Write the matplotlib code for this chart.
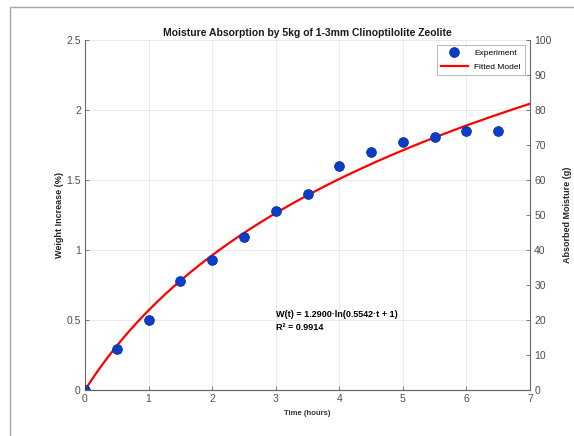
import numpy as np
import matplotlib.pyplot as plt
from matplotlib.patches import Rectangle

plt.rcParams['font.family'] = ['Liberation Sans', 'DejaVu Sans']

# Measured weight increase of the zeolite sample
time_h = [0, 0.5, 1, 1.5, 2, 2.5, 3, 3.5, 4, 4.5, 5, 5.5, 6, 6.5]
weight_pct = [0, 0.29, 0.50, 0.78, 0.93, 1.09, 1.28, 1.40, 1.60, 1.70, 1.77, 1.81, 1.85, 1.85]

# Fitted model W(t) = a*ln(b*t + 1)
a_fit = 1.2900
b_fit = 0.5542
r2 = 0.9914

t = np.linspace(0, 7, 300)
w_fit = a_fit * np.log(b_fit * t + 1)

ax_col = '#666666'
lab_col = '#4d4d4d'

fig = plt.figure(figsize=(5.74, 4.36), dpi=100)
fig.patches.append(Rectangle((10/574, -0.1), 1.2, 1.1 - 7/436,
                             transform=fig.transFigure, fill=False,
                             edgecolor='#a8a8a8', lw=1.0, clip_on=False))
ax = fig.add_axes([85/574, 46/436, 445/574, 350/436])

ax.plot(time_h, weight_pct, 'o', color='#0a3dc8', mec='#06309e', mew=0.6,
        ms=7, label='Experiment', zorder=3)
ax.plot(t, w_fit, color='#ff0000', lw=1.6, label='Fitted Model', zorder=2)

ax.set_xlim(0, 7)
ax.set_ylim(0, 2.5)
ax.set_xticks(range(0, 8))
ax.set_yticks([0, 0.5, 1, 1.5, 2, 2.5])
ax.set_yticklabels(['0', '0.5', '1', '1.5', '2', '2.5'])
ax.grid(True, color='#e6e6e6', lw=0.6)
ax.set_axisbelow(True)

ax.set_title('Moisture Absorption by 5kg of 1-3mm Clinoptilolite Zeolite',
             fontsize=7.5, fontweight='bold', color='#1a1a1a', pad=3)
ax.set_xlabel('Time (hours)', fontsize=5.5, fontweight='bold', color='#333333', labelpad=4)
ax.set_ylabel('Weight Increase (%)', fontsize=6.5, fontweight='bold', color='#262626', labelpad=2)

ax.text(3.0, 0.54, 'W(t) = %.4f\u00b7ln(%.4f\u00b7t + 1)' % (a_fit, b_fit),
        fontsize=6.5, fontweight='bold', va='center')
ax.text(3.0, 0.45, 'R\u00b2 = %.4f' % r2, fontsize=6.5, fontweight='bold', va='center')

leg = ax.legend(loc='upper right', fontsize=6, frameon=True, fancybox=False,
                edgecolor='#9a9a9a', borderaxespad=0.6, handlelength=3.2,
                borderpad=0.5, labelspacing=0.75)
leg.get_frame().set_linewidth(0.6)

# Right axis in grams
ax2 = ax.twinx()
ax2.set_ylim(0, 100)
ax2.set_yticks(range(0, 101, 10))
ax2.set_ylabel('Absorbed Moisture (g)', fontsize=6.5, fontweight='bold', color='#262626', labelpad=8)

for a in (ax, ax2):
    a.spines['top'].set_visible(False)
    for s in ('left', 'right', 'bottom'):
        a.spines[s].set_color(ax_col)
        a.spines[s].set_linewidth(0.8)
    a.tick_params(direction='in', length=3, width=0.6, colors=ax_col,
                  labelcolor=lab_col, labelsize=7.5, pad=3)
ax2.spines['left'].set_visible(False)
ax.spines['right'].set_visible(False)

fig.savefig('out.png', dpi=100)
